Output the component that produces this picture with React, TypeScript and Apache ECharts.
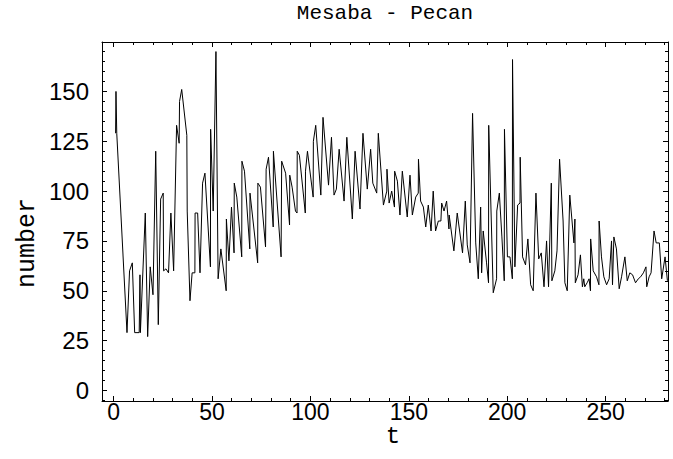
import React, { useEffect, useRef } from "react";
import * as echarts from "echarts";

const TITLE = "Mesaba - Pecan";
const X_LABEL = "t";
const Y_LABEL = "number";

const T = [
  1.0, 1.2, 1.6, 6.8, 8.1, 9.5, 10.7, 13.0, 13.4, 13.6, 16.1, 17.3, 18.6, 20.0, 21.4, 22.7, 23.9, 25.2, 25.4, 26.6,
  27.9, 29.1, 30.5, 32.0, 33.3, 33.5, 34.6, 37.2, 37.4, 38.8, 39.9, 41.3, 41.4, 42.7, 43.9, 45.2, 46.4, 49.2, 49.3, 50.6,
  52.0, 53.1, 54.5, 57.2, 57.3, 58.6, 59.9, 61.2, 61.3, 62.6, 65.1, 65.2, 66.5, 69.2, 69.3, 73.2, 73.3, 74.6, 77.2, 77.5,
  78.7, 81.1, 81.2, 85.1, 85.4, 87.4, 89.4, 89.5, 90.7, 92.4, 93.2, 93.3, 94.4, 97.4, 97.5, 98.5, 101.4, 101.5, 102.7, 105.3,
  106.4, 109.2, 110.7, 112.0, 113.2, 114.6, 117.1, 118.5, 121.3, 122.7, 125.2, 126.7, 128.9, 130.6, 131.7, 133.7, 134.5, 137.1, 138.8, 138.9,
  140.0, 141.3, 142.7, 142.8, 144.2, 145.5, 146.7, 149.2, 150.6, 151.8, 153.5, 154.8, 154.9, 156.0, 157.4, 158.6, 159.9, 161.3, 162.4, 163.6,
  165.0, 166.3, 166.7, 167.9, 169.2, 170.4, 170.5, 172.9, 174.6, 177.3, 178.7, 179.7, 181.1, 182.4, 184.0, 185.3, 186.5, 187.0, 187.8, 189.5,
  190.5, 190.6, 192.9, 194.6, 194.7, 196.0, 197.3, 198.5, 198.6, 200.1, 201.4, 202.6, 202.7, 203.9, 205.3, 206.5, 206.6, 207.8, 209.3, 210.5,
  211.9, 213.2, 214.6, 216.0, 217.3, 218.7, 220.0, 221.0, 222.4, 222.7, 224.2, 225.3, 226.6, 228.4, 229.3, 230.5, 231.8, 233.9, 234.4, 234.6,
  236.0, 237.2, 238.2, 238.9, 239.4, 240.6, 241.6, 242.3, 242.4, 243.7, 245.4, 246.6, 246.7, 247.9, 249.1, 250.5, 251.8, 253.0, 253.5, 254.2,
  255.5, 256.9, 258.1, 259.8, 261.0, 262.3, 263.7, 265.2, 266.6, 267.8, 269.2, 270.5, 270.9, 272.1, 273.1, 274.6, 275.7, 277.3, 278.5, 280.2,
  281.4,
];

const V = [
  129, 150, 129, 29, 60, 64, 29, 29, 58, 29, 89, 27, 62, 48, 120, 33, 96, 99, 60, 61,
  59, 89, 60, 133, 124, 145, 151, 128, 90, 45, 59, 59, 89, 89, 59, 104, 109, 62, 131, 90,
  170, 56, 71, 50, 86, 65, 92, 69, 104, 97, 67, 115, 110, 71, 99, 64, 104, 102, 72, 111,
  117, 82, 120, 67, 115, 109, 83, 108, 102, 90, 89, 120, 118, 89, 110, 120, 97, 125, 133, 98,
  137, 103, 127, 98, 101, 121, 95, 127, 86, 120, 91, 129, 101, 121, 104, 99, 129, 93, 100, 111,
  94, 100, 92, 110, 105, 88, 110, 87, 108, 88, 97, 99, 116, 95, 92, 82, 93, 80, 100, 80,
  85, 85, 94, 90, 95, 81, 88, 70, 89, 69, 95, 73, 64, 139, 74, 56, 92, 59, 80, 64,
  54, 133, 49, 56, 90, 99, 77, 55, 131, 67, 67, 56, 166, 62, 93, 94, 117, 67, 63, 76,
  53, 50, 99, 66, 69, 52, 75, 52, 104, 55, 60, 70, 116, 85, 54, 50, 98, 74, 86, 54,
  58, 68, 52, 56, 52, 54, 56, 50, 76, 60, 57, 53, 85, 67, 57, 53, 56, 75, 53, 77,
  71, 51, 57, 67, 55, 59, 58, 54, 56, 57, 59, 62, 52, 57, 59, 80, 74, 74, 56, 67,
  55,
];

const X_MIN = -5.9;
const X_MAX = 281.7;
const Y_MIN = -5.3;
const Y_MAX = 174.8;

const LABEL_FONT = "Liberation Sans";
const MONO_FONT = "Liberation Mono";

export default function App() {
  const ref = useRef<HTMLDivElement | null>(null);

  useEffect(() => {
    if (!ref.current) return;
    const chart = echarts.init(ref.current, null, { renderer: "svg" });
    const data = T.map((t, i) => [t, V[i]]);

    const axisCommon = {
      type: "value",
      splitLine: { show: false },
      axisLine: { show: true, onZero: false, lineStyle: { color: "#000", width: 1 } },
      axisTick: { show: true, inside: true, length: 5, lineStyle: { color: "#000", width: 1 } },
      minorTick: { show: true, splitNumber: 5, length: 3, lineStyle: { color: "#000", width: 1 } },
    };

    const xLab = (v: number) => (Math.abs(v % 50) < 1e-6 ? String(v) : "");
    const yLab = (v: number) => (Math.abs(v % 25) < 1e-6 ? String(v) : "");

    chart.setOption({
      animation: false,
      backgroundColor: "#fff",
      grid: { left: 102, top: 42, right: 5, bottom: 58, containLabel: false },
      xAxis: [
        {
          ...axisCommon,
          position: "bottom",
          min: X_MIN,
          max: X_MAX,
          minInterval: 50,
          maxInterval: 50,
          axisLabel: {
            show: true,
            formatter: xLab,
            color: "#000",
            fontFamily: LABEL_FONT,
            fontSize: 23,
            margin: -1,
          },
        },
        {
          ...axisCommon,
          position: "top",
          min: X_MIN,
          max: X_MAX,
          minInterval: 50,
          maxInterval: 50,
          axisLabel: { show: false },
        },
      ],
      yAxis: [
        {
          ...axisCommon,
          position: "left",
          min: Y_MIN,
          max: Y_MAX,
          minInterval: 25,
          maxInterval: 25,
          axisLabel: {
            show: true,
            formatter: yLab,
            color: "#000",
            fontFamily: LABEL_FONT,
            fontSize: 24,
            margin: 13,
          },
        },
        {
          ...axisCommon,
          position: "right",
          min: Y_MIN,
          max: Y_MAX,
          minInterval: 25,
          maxInterval: 25,
          axisLabel: { show: false },
        },
      ],
      graphic: [
        {
          type: "text",
          x: 385,
          y: 13,
          style: {
            text: TITLE,
            fill: "#000",
            font: `21px "${MONO_FONT}"`,
            align: "center",
            verticalAlign: "middle",
            textAlign: "center",
            textVerticalAlign: "middle",
          },
        },
        {
          type: "text",
          x: 393,
          y: 436,
          style: {
            text: X_LABEL,
            fill: "#000",
            font: `24px "${MONO_FONT}"`,
            align: "center",
            verticalAlign: "middle",
            textAlign: "center",
            textVerticalAlign: "middle",
          },
        },
        {
          type: "text",
          x: 27,
          y: 243,
          rotation: Math.PI / 2,
          style: {
            text: Y_LABEL,
            fill: "#000",
            font: `25px "${MONO_FONT}"`,
            align: "center",
            verticalAlign: "middle",
            textAlign: "center",
            textVerticalAlign: "middle",
          },
        },
      ],
      series: [
        {
          type: "line",
          xAxisIndex: 0,
          yAxisIndex: 0,
          data,
          symbol: "none",
          showSymbol: false,
          clip: false,
          lineStyle: { color: "#000", width: 1 },
        },
      ],
    });

    return () => chart.dispose();
  }, []);

  return (
    <div
      ref={ref}
      style={{ position: "fixed", left: 0, top: 0, width: 673, height: 459, background: "#fff" }}
    />
  );
}
